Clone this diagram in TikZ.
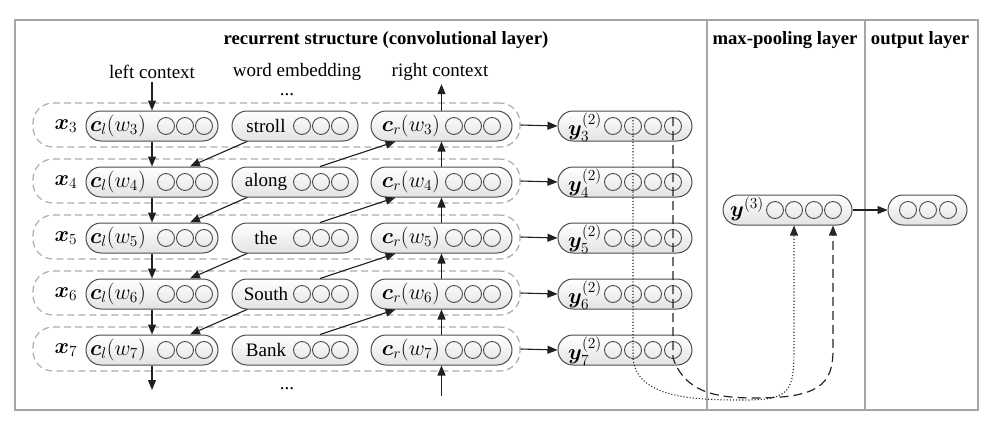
\documentclass[tikz,border=0pt]{standalone}
\usepackage{fix-cm}
\usepackage{amsmath}
\usepackage{bm}
\usepackage[no-math]{fontspec}
\setmainfont{Liberation Serif}
\usetikzlibrary{arrows.meta,calc}
\tikzset{
 pill/.style={draw=gray!60!black, line width=1pt, rounded corners=15pt, minimum height=30pt, top color=white, bottom color=gray!22, inner sep=0pt},
 circ/.style={circle, draw=gray!60!black, line width=0.9pt, minimum size=17pt, inner sep=0pt},
 rowbox/.style={draw=gray!65, dash pattern=on 7pt off 4pt, line width=1.2pt, rounded corners=20pt, minimum height=44pt, minimum width=487pt, inner sep=0pt},
 arr/.style={-{Triangle[length=10pt,width=8pt]}, line width=1.1pt, draw=gray!25!black, fill=gray!25!black},
 frame/.style={draw=gray!70, line width=1.4pt},
 ttl/.style={font=\fontsize{18.7}{22}\selectfont\bfseries},
 mth/.style={font=\fontsize{22}{25}\selectfont, inner sep=1pt},
 dots/.style={inner sep=0pt},
 dotline/.style={line width=1.1pt, draw=gray!30!black, dash pattern=on 1.1pt off 2pt, -{Triangle[length=10pt,width=8pt]}},
 dashline/.style={line width=1.2pt, draw=gray!30!black, dash pattern=on 9pt off 5pt, -{Triangle[length=10pt,width=8pt]}}
}
\begin{document}
\begin{tikzpicture}[x=1pt,y=-1pt,font=\fontsize{19}{22}\selectfont]
\useasboundingbox (0,0) rectangle (997,423);
% frame
\draw[frame] (15,20) rectangle (978,410);
\draw[frame] (707,20) -- (707,410);
\draw[frame] (865,20) -- (865,410);
% titles
\node[ttl] (t1) at (386,40) {recurrent structure (convolutional layer)};
\node[ttl] (t2) at (785,40) {max-pooling layer};
\node[ttl] (t3) at (920,40) {output layer};
\node (lc) at (152,72) {left context};
\node (we) at (297,72) {word embedding};
\node (rc) at (440,72) {right context};
\node[dots] (d1) at (287,95) {...};
\node[dots] (d2) at (287,389) {...};
% rows
\foreach \i/\w/\yy in {3/stroll/126,4/along/182,5/the/238,6/South/294,7/Bank/350}{
 \node[rowbox] (r\i) at (276.5,\yy-1) {};
 \node[mth] (x\i) at (66,\yy) {$\bm{x}_{\i}$};
 \node[pill, minimum width=132pt] (cl\i) at (152,\yy) {};
 \node[mth] (tcl\i) at (118,\yy) {$\bm{c}_l(w_{\i})$};
 \foreach \k/\cx in {a/166,b/185,c/204} \node[circ] (cl\i\k) at (\cx,\yy) {};
 \node[pill, minimum width=126pt] (w\i) at (295,\yy) {};
 \node (tw\i) at (266,\yy) {\w};
 \foreach \k/\cx in {a/302,b/321,c/340} \node[circ] (w\i\k) at (\cx,\yy) {};
 \node[pill, minimum width=141pt] (cr\i) at (441.5,\yy) {};
 \node[mth] (tcr\i) at (411,\yy) {$\bm{c}_r(w_{\i})$};
 \foreach \k/\cx in {a/454,b/473,c/492} \node[circ] (cr\i\k) at (\cx,\yy) {};
 \node[pill, minimum width=134pt] (y\i) at (625,\yy) {};
 \node[mth] (ty\i) at (585,\yy+1) {$\bm{y}_{\i}^{(2)}$};
 \foreach \k/\cx in {a/613,b/633,c/653,d/673} \node[circ] (y\i\k) at (\cx,\yy) {};
 \draw[arr] (r\i.east) -- (y\i.west);
}
% max pooling and output
\node[pill, minimum width=129pt] (Y3) at (787.5,210) {};
\node[mth] (tY3) at (747,209) {$\bm{y}^{(3)}$};
\foreach \k/\cx in {a/775,b/794,c/814,d/833} \node[circ] (Y3\k) at (\cx,210) {};
\node[pill, minimum width=79pt] (out) at (927.5,210) {};
\foreach \k/\cx in {a/908,b/928,c/948} \node[circ] (out\k) at (\cx,210) {};
\draw[arr] (Y3.east) -- (out.west);
% vertical context arrows
\draw[arr] (cl3.north |- lc.south) -- (cl3.north);
\draw[arr] (cr3.north) -- (cr3.north |- rc.south);
\coordinate (lcbot) at (152,390);
\coordinate (rcbot) at (441.5,396);
\draw[arr] (cl7.south) -- (lcbot);
\draw[arr] (rcbot) -- (cr7.south);
\foreach \i/\j in {3/4,4/5,5/6,6/7}{
 \draw[arr] (cl\i.south) -- (cl\j.north);
 \draw[arr] (cr\j.north) -- (cr\i.south);
 \draw[arr] ($(w\i.south)+(-48,0)$) -- ($(cl\j.north)+(38,0)$);
 \draw[arr] ($(w\j.north)+(25,0)$) -- ($(cr\i.south)+(-46,0)$);
}
% pooling connectors
\draw[dotline] (y3b.north) -- (633,355) .. controls (633,400) and (700,400) .. (745,400) .. controls (792,400) and (794,390) .. (794,345) -- (Y3.south -| Y3b);
\draw[dashline] (y3d.north) -- (673,358) .. controls (685,392) and (715,398) .. (755,398) .. controls (818,398) and (833,385) .. (833,350) -- (Y3.south -| Y3d);
\end{tikzpicture}
\end{document}
